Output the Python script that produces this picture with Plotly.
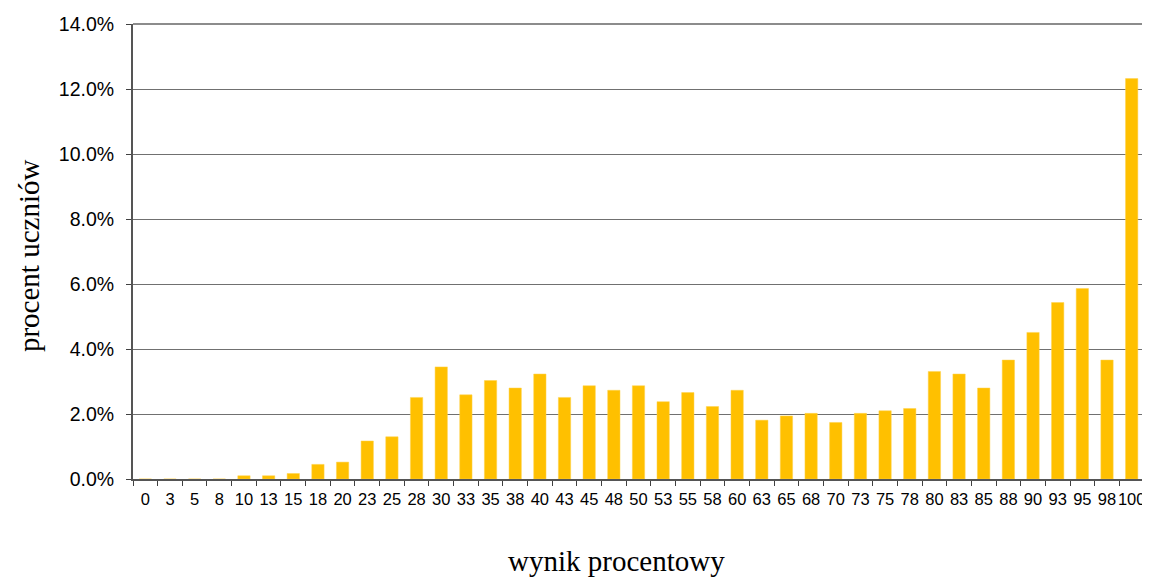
import plotly.graph_objects as go

categories = ["0", "3", "5", "8", "10", "13", "15", "18", "20", "23", "25", "28", "30", "33",
              "35", "38", "40", "43", "45", "48", "50", "53", "55", "58", "60", "63", "65",
              "68", "70", "73", "75", "78", "80", "83", "85", "88", "90", "93", "95", "98", "100"]
percent_students = [0.0, 0.0, 0.0, 0.0, 0.10, 0.10, 0.17, 0.45, 0.52, 1.17, 1.30, 2.51, 3.45, 2.59,
                    3.03, 2.80, 3.23, 2.51, 2.87, 2.73, 2.87, 2.38, 2.66, 2.23, 2.73, 1.81, 1.94,
                    2.02, 1.74, 2.02, 2.10, 2.17, 3.31, 3.23, 2.80, 3.66, 4.51, 5.43, 5.86, 3.66, 12.32]
y_ticks = [0, 2, 4, 6, 8, 10, 12, 14]
y_tick_labels = ["0.0%", "2.0%", "4.0%", "6.0%", "8.0%", "10.0%", "12.0%", "14.0%"]

fig = go.Figure()
fig.add_trace(go.Bar(
    x=categories, y=percent_students,
    marker=dict(color="#FFC000", line=dict(color="#FFD24D", width=0.5)),
    width=0.5,
))

# page body has an 8px margin, so figure is sized/offset to compensate
fig.update_layout(
    width=1142, height=571,
    margin=dict(l=125, r=6, t=16, b=100, autoexpand=False),
    plot_bgcolor="white", paper_bgcolor="white",
    showlegend=False,
    font=dict(family="Liberation Sans, Arial", color="black"),
)
fig.update_xaxes(
    type="category",
    tickson="boundaries",
    ticks="outside", ticklen=5, tickcolor="#404040", tickwidth=1,
    tickfont=dict(size=16.5, family="Liberation Sans, Arial", color="black"),
    ticklabelstandoff=4,
    showline=True, linecolor="#555555", linewidth=2,
    showgrid=False,
    tickangle=0,
    automargin=False,
)
fig.update_yaxes(
    range=[0, 14],
    tickvals=y_ticks, ticktext=y_tick_labels,
    ticks="outside", ticklen=5, tickcolor="#404040", tickwidth=1,
    tickfont=dict(size=19.5, family="Liberation Sans, Arial", color="black"),
    ticklabelstandoff=8,
    showline=True, linecolor="#555555", linewidth=2,
    showgrid=True, gridcolor="#707070", gridwidth=1,
    zeroline=False,
    automargin=False,
)
fig.add_annotation(text="procent uczniów", xref="paper", yref="paper", x=0, y=0.49,
                   xanchor="center", yanchor="middle", xshift=-104, textangle=-90,
                   showarrow=False,
                   font=dict(family="Liberation Serif, Times New Roman", size=29, color="black"))
fig.add_annotation(text="wynik procentowy", xref="paper", yref="paper", x=0.478, y=0,
                   xanchor="center", yanchor="middle", yshift=-82,
                   showarrow=False,
                   font=dict(family="Liberation Serif, Times New Roman", size=29, color="black"))
# frame on top and right
fig.add_shape(type="line", xref="paper", yref="paper", x0=0, x1=1, y0=1, y1=1,
              line=dict(color="#8c8c8c", width=2))
fig.add_shape(type="line", xref="paper", yref="paper", x0=1, x1=1, y0=0, y1=1,
              line=dict(color="#8c8c8c", width=2))

fig.write_html("out.html")
